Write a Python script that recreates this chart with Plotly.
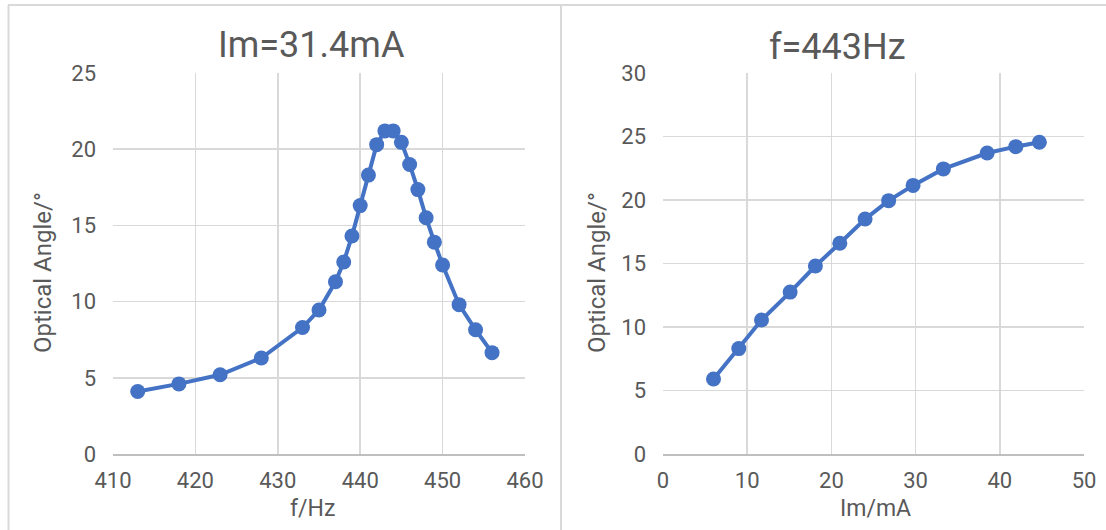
import plotly.graph_objects as go
from plotly.subplots import make_subplots

# Left chart: Im = 31.4 mA, angle vs frequency
freq_hz = [413, 418, 423, 428, 433, 435, 437, 438, 439, 440, 441, 442, 443, 444,
           445, 446, 447, 448, 449, 450, 452, 454, 456]
angle_vs_freq = [4.1, 4.6, 5.2, 6.3, 8.3, 9.45, 11.3, 12.6, 14.3, 16.3, 18.3, 20.3,
                 21.2, 21.2, 20.45, 19.0, 17.35, 15.5, 13.9, 12.4, 9.8, 8.15, 6.65]

# Right chart: f = 443 Hz, angle vs current
current_ma = [6.0, 9.0, 11.7, 15.1, 18.1, 21.0, 24.0, 26.8, 29.7, 33.3, 38.5, 41.9, 44.7]
angle_vs_current = [5.9, 8.3, 10.55, 12.75, 14.8, 16.6, 18.5, 19.95, 21.15, 22.45,
                    23.7, 24.2, 24.55]

left_title = "Im=31.4mA"
right_title = "f=443Hz"
left_xlabel = "f/Hz"
right_xlabel = "Im/mA"
ylabel = "Optical Angle/°"

W, H = 1106, 530
FONT = "Roboto"
TXT = "#595959"
GRID = "#D9D9D9"
BLUE = "#4472C4"

def px(x):
    return x / W

def py(y):
    return 1 - y / H

fig = make_subplots(rows=1, cols=2)

fig.add_trace(go.Scatter(x=freq_hz, y=angle_vs_freq, mode="lines+markers",
                         line=dict(color=BLUE, width=4),
                         marker=dict(color=BLUE, size=15),
                         showlegend=False), row=1, col=1)
fig.add_trace(go.Scatter(x=current_ma, y=angle_vs_current, mode="lines+markers",
                         line=dict(color=BLUE, width=4),
                         marker=dict(color=BLUE, size=15),
                         showlegend=False), row=1, col=2)

axis_common = dict(showgrid=True, gridcolor=GRID, gridwidth=1.5, zeroline=False,
                   tickfont=dict(family=FONT, size=22, color=TXT), ticks="",
                   fixedrange=True, automargin=False)

fig.update_xaxes(**axis_common, showline=True, linecolor="#BFBFBF", linewidth=1.5,
                 ticklabelstandoff=6)
fig.update_yaxes(**axis_common, showline=False, ticklabelstandoff=16)

fig.update_layout(
    xaxis=dict(domain=[px(113), px(525)], range=[410, 460], dtick=10, tick0=410),
    xaxis2=dict(domain=[px(663), px(1084)], range=[0, 50], dtick=10, tick0=0),
    yaxis=dict(domain=[py(454), py(73)], range=[0, 25], dtick=5),
    yaxis2=dict(domain=[py(454), py(73)], range=[0, 30], dtick=5),
)

ann = []
def text(x, y, s, size, angle=0):
    ann.append(dict(x=px(x), y=py(y), xref="paper", yref="paper", text=s,
                    showarrow=False, textangle=angle, xanchor="center", yanchor="middle",
                    font=dict(family=FONT, size=size, color=TXT)))

text(311, 45, left_title, 36)
text(837, 47, right_title, 36)
text(312, 508, left_xlabel, 23)
text(875, 508, right_xlabel, 23)
text(43, 273, ylabel, 24, -90)
text(597, 273, ylabel, 24, -90)

shapes = [
    dict(type="line", xref="paper", yref="paper", x0=px(8), x1=1, y0=py(5), y1=py(5),
         line=dict(color=GRID, width=2)),
    dict(type="line", xref="paper", yref="paper", x0=px(8.5), x1=px(8.5), y0=py(5), y1=0,
         line=dict(color=GRID, width=2)),
    dict(type="line", xref="paper", yref="paper", x0=px(561), x1=px(561), y0=py(5), y1=0,
         line=dict(color=GRID, width=2)),
]

fig.update_layout(
    template="none",
    width=W, height=H,
    margin=dict(l=0, r=0, t=0, b=0, pad=0, autoexpand=False),
    paper_bgcolor="white", plot_bgcolor="white",
    annotations=ann, shapes=shapes,
    font=dict(family=FONT, color=TXT),
    showlegend=False,
)

fig.write_html(
    "out.html",
    config={"displayModeBar": False, "staticPlot": True},
    post_script="document.body.style.margin='0';document.body.style.overflow='hidden';",
)
